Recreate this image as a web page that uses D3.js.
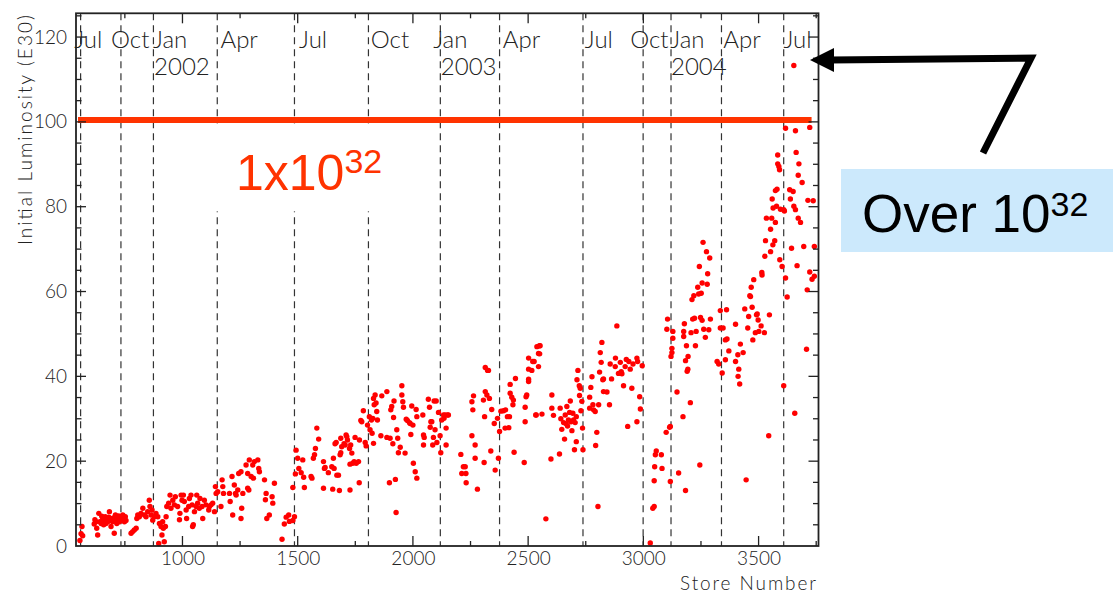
<!DOCTYPE html>
<html>
<head>
<meta charset="utf-8">
<script src="https://cdn.jsdelivr.net/npm/d3@7"></script>
<style>
  body { margin: 0; background: #fff; }
  text { font-family: Lato, "Open Sans", sans-serif; }
</style>
</head>
<body>
<div id="chart"></div>
<script>
// store number / initial luminosity (E30)
const pts2001 = [
  [555,1.3],[560,2.9],[564,4.6],[567,2.4],
  [617,5.2],[620,6.2],[625,5.7],[628,4.2],[632,2.6],[637,7.7],[642,5.7],[647,5.3],[650,7.0],[654,6.5],[658,5.0],
  [661,6.1],[665,6.9],[668,5.3],[672,6.3],[676,5.7],[680,6.8],[683,8.1],[686,6.5],[690,4.6],[694,6.0],[697,5.7],
  [700,6.6],[704,3.0],[709,7.3],[712,6.1],[715,5.3],[718,6.4],[723,7.1],[726,5.7],[730,6.0],[733,6.9],[741,7.3],
  [745,6.4],[748,5.7],[752,6.9],[755,6.0],
  [777,3.0],[784,3.4],[791,3.8],[799,4.2],[802,6.5],[806,7.3],[813,6.9],[820,7.7],[828,8.9],[835,7.3],[842,6.9],
  [849,8.1],[856,10.8],[859,9.3],[864,7.3],[868,8.5],[871,6.1]
];
const pts2002 = [
  [878,6.9],[885,7.7],[893,6.9],[897,0.6],[900,5.3],[907,4.6],[911,2.6],[914,5.7],[917,4.2],[921,1.0],[926,4.6],[929,6.9],
  [932,9.3],[940,10.1],[946,12.0],[950,8.9],[958,10.8],[965,9.7],[969,11.6],[979,9.3],[987,6.2],[989,7.7],[994,12.0],
  [998,10.8],[1004,12.0],[1008,10.5],[1016,8.5],[1018,6.5],[1027,9.3],[1030,11.2],[1037,12.0],[1042,9.7],[1044,4.6],
  [1047,5.0],[1052,8.1],[1059,9.3],[1062,12.0],[1066,10.1],[1073,8.9],[1076,11.2],[1085,9.3],[1088,6.5],[1095,10.8],
  [1102,9.7],[1114,8.5],[1117,9.3],[1124,9.7],[1131,10.1],[1139,8.1],
  [1143,14.0],[1146,12.4],[1153,12.8],[1167,9.3],[1172,15.6],[1175,14.0],[1178,12.4],[1204,12.4],[1207,10.5],[1215,16.4],
  [1218,7.3],[1225,14.4],[1230,12.4],[1233,12.0],[1240,13.2],[1244,17.1],[1254,17.5],[1257,8.9],[1254,6.5],[1262,12.4],
  [1276,19.1],[1283,17.1],[1283,13.6],[1288,13.2],[1290,20.3],[1298,16.4],[1305,19.1],[1308,16.0],[1312,19.9],[1327,20.3],
  [1331,18.3],[1334,17.5],[1356,15.6],[1360,10.9],[1363,12.4],[1366,6.5],[1377,7.3],[1389,11.6],[1392,10.1],[1399,14.8],
  [1432,1.6],[1442,5.2],[1450,6.8],[1461,7.3],[1464,5.8],[1479,6.0],[1486,6.9],
  [1479,13.8],[1490,17.0],[1493,22.6],[1500,20.7],[1505,18.3],[1515,17.3],[1522,20.3],[1526,16.2],[1529,13.8],[1558,16.4],
  [1562,16.0],[1568,20.7],[1573,21.5],[1577,23.0],[1583,27.8],[1591,25.2],[1612,19.9],[1616,18.3],[1612,13.6],
  [1619,18.5],[1633,17.3],[1648,18.7],[1652,13.4],[1655,20.7],[1658,18.3],[1662,24.1],[1667,24.4],[1670,16.7],[1677,16.7],
  [1681,13.1],[1684,21.5],[1687,22.0],[1687,25.4],[1691,23.4],[1701,24.1],[1706,23.8],[1710,26.2],[1713,25.8],[1716,25.0],
  [1725,23.0],[1730,23.8],[1727,13.2],[1727,19.3],[1735,21.9],[1739,19.5],[1745,19.9],[1749,25.6],[1754,19.5],[1764,19.9],
  [1767,14.9],[1768,25.0],[1774,29.6],[1778,29.3],[1785,31.9],[1793,24.4],[1797,23.6],[1803,28.5],[1811,30.5],[1814,27.4],
  [1820,29.7],[1823,26.6],[1826,30.1],[1829,24.2],[1829,34.8],[1832,33.3],[1836,35.6],[1840,33.7],[1843,31.7],[1846,29.7],
  [1861,26.0],[1865,35.4],[1887,36.4],[1887,25.6],[1898,14.9],[1901,25.4],[1904,32.1],[1908,32.9],[1913,24.1],[1916,30.3],
  [1918,34.2],[1924,15.7],[1927,7.9],[1930,27.4],[1934,25.4],[1937,22.0],[1945,23.3],[1952,37.8],[1952,35.6],[1956,34.0],
  [1959,32.7],[1966,21.9],[1971,29.9],[1976,29.6],[1985,29.1],[1988,28.9],[1991,26.3],[1995,33.0],[2000,28.5],[2002,19.5],
  [2010,17.5],[2014,32.2],[2017,16.0],[2017,30.5],[2043,30.9],[2046,26.2],[2049,25.6],[2046,23.8],[2067,34.6],[2072,32.7],
  [2075,28.0],[2078,29.3],[2082,29.3],[2086,23.8],[2089,25.6],[2092,34.2],[2096,27.4],[2101,34.2],[2104,24.4],[2111,31.5],
  [2118,26.0]
];
const pts2003 = [
  [2121,22.0],[2125,29.7],[2133,30.9],[2135,30.1],[2140,30.9],[2144,27.8],[2144,23.8],[2150,30.9],[2154,30.9],
  [2208,21.6],[2212,17.1],[2219,18.7],[2227,18.7],[2230,17.1],[2231,14.9],[2256,34.0],[2256,26.0],[2260,32.1],[2263,35.4],
  [2270,23.8],[2270,20.7],[2280,13.4],[2306,34.4],[2309,19.7],[2311,30.5],[2314,36.4],[2314,42.1],[2321,35.6],[2324,41.4],
  [2328,41.4],[2332,34.8],[2338,22.4],[2342,32.2],[2353,28.9],[2357,17.9],[2367,30.1],[2371,20.7],[2376,27.0],[2382,31.8],
  [2393,31.9],[2400,27.8],[2402,32.1],[2410,30.5],[2416,27.9],[2419,30.5],[2422,36.0],[2422,38.1],[2429,35.1],[2434,33.3],
  [2436,34.4],[2439,22.1],[2445,39.5],[2483,19.7],[2487,29.3],[2487,32.7],[2491,35.2],[2494,35.6],[2502,38.8],[2502,39.3],
  [2502,41.7],[2502,44.3],[2516,41.4],[2520,43.5],[2526,43.5],[2533,30.9],[2538,47.0],[2545,42.3],[2545,45.4],[2549,47.2],
  [2552,47.2],[2550,45.3],[2535,30.9],[2560,31.1],[2577,6.4],[2599,20.5],[2603,35.6],[2603,32.5],[2610,30.8],[2636,21.7],
  [2639,32.5],[2642,30.0],[2646,27.5],[2654,29.1],[2658,25.2],[2661,30.9],[2665,28.8],[2668,32.9],[2671,28.3],[2675,29.7],
  [2680,31.5],[2683,34.2],[2686,29.3],[2690,27.2],[2694,31.3],[2697,29.7],[2704,29.1],[2701,22.7],[2709,24.6],[2709,30.5],
  [2712,39.2],[2716,41.4],[2722,37.8],[2723,35.5],[2726,37.2],[2729,31.9],[2733,34.1],[2736,27.8],[2738,22.7],[2767,35.1],
  [2767,32.5],[2772,37.4],[2777,39.9],[2781,33.3],[2784,32.1],[2791,31.7],[2793,23.7],[2798,26.8],[2803,9.3],[2806,33.3],
  [2810,41.0],[2813,45.6],[2817,43.3],[2820,48.0],[2824,39.2],[2827,36.4],[2827,39.4],[2842,36.3],[2853,33.3],[2856,42.9],
  [2862,39.4],[2878,42.3],[2879,44.3],[2885,51.9],[2892,40.7],[2900,43.3],[2904,41.1],[2907,40.6],[2914,37.8],[2921,42.3],
  [2926,44.0],[2932,28.2],[2937,43.5],[2943,41.7],[2950,37.2],[2955,42.9],[2972,44.3],[2972,29.3],[2975,43.5],[2984,35.2],
  [2987,32.3],[2995,42.5],
  [3030,0.7],[3041,8.9],[3047,9.3],[3047,15.4],[3049,18.7],[3052,21.5],[3056,22.4],[3078,21.5],[3081,18.3],[3099,26.8],
  [3102,51.1],[3105,53.5],[3114,28.0],[3117,15.2],[3117,28.2]
];
const pts2004 = [
  [3120,44.7],[3124,46.6],[3128,49.0],[3124,45.6],[3128,50.6],[3146,36.3],[3153,17.2],[3172,30.5],[3175,49.4],[3175,50.6],
  [3178,52.4],[3183,43.7],[3183,13.1],[3187,47.2],[3190,41.2],[3193,41.7],[3194,44.7],[3204,33.8],[3207,50.3],[3211,58.1],
  [3214,53.5],[3219,59.0],[3222,53.7],[3226,47.2],[3229,50.6],[3236,61.0],[3240,59.4],[3243,65.9],[3245,19.1],[3248,53.9],
  [3251,59.6],[3255,62.0],[3255,53.2],[3259,71.6],[3262,51.1],[3269,49.2],[3274,69.4],[3277,61.7],[3279,64.2],[3284,51.0],
  [3288,67.9],[3291,53.5],
  [3320,43.5],[3327,42.9],[3334,55.5],[3334,51.4],[3342,40.8],[3346,51.4],[3356,48.6],[3356,43.9],[3361,55.7],[3363,48.8],
  [3371,46.0],[3400,52.3],[3400,43.5],[3410,45.1],[3411,40.0],[3414,41.7],[3418,38.2],[3421,47.6],[3433,45.6],[3440,55.9],
  [3446,15.6],[3453,51.4],[3457,54.1],[3462,59.0],[3465,58.8],[3468,61.0],[3472,56.3],[3475,48.6],[3479,62.8],[3486,50.3],
  [3491,54.5],[3494,54.7],[3498,53.3],[3501,50.6],[3511,51.9],[3514,64.5],[3515,63.9],[3525,50.3],[3527,68.3],[3530,72.0],
  [3534,77.3],[3544,26.0],[3547,54.5],[3552,69.4],[3552,74.7],[3557,77.3],[3559,81.8],[3562,71.0],[3563,79.7],[3570,72.0],
  [3573,76.3],[3573,83.8],[3578,80.1],[3580,84.1],[3583,92.2],[3583,90.1],[3588,89.5],[3591,88.7],[3592,67.5],[3595,79.4],
  [3602,65.9],[3609,79.3],[3609,37.8],[3612,79.0],[3617,98.5],[3617,63.2],[3624,58.7],[3635,84.0],[3638,81.8],[3643,70.2],
  [3650,83.6],[3653,80.1],[3653,113.3],[3657,31.3],[3660,79.3],[3660,97.9],[3663,92.8],[3667,66.1],[3672,77.3],[3675,90.1],
  [3672,87.4],[3682,76.3],[3689,85.7],[3696,70.6],[3708,46.4],[3711,60.4],[3714,81.5],[3722,64.6],[3722,98.7],[3732,62.9],
  [3737,81.4],[3742,70.6],[3742,63.6]
];

// month boundaries (store number at first store of the month)
const monthLines = [558, 733, 874, 1151, 1486, 1807, 2119, 2376, 2738, 2999, 3120, 3339, 3609];
const monthLabels = [
  ["Jul", 530], ["Oct", 690], ["Jan", 872], ["Apr", 1165], ["Jul", 1506], ["Oct", 1817],
  ["Jan", 2088], ["Apr", 2390], ["Jul", 2746], ["Oct", 2943], ["Jan", 3117], ["Apr", 3347], ["Jul", 3608]
];
const yearLabels = [["2002", 877], ["2003", 2121], ["2004", 3120]];
const yTicks = [0, 20, 40, 60, 80, 100, 120];
const xTicks = [1000, 1500, 2000, 2500, 3000, 3500];
const goal = 100;

const W = 1113, H = 595;
const svg = d3.select("#chart").append("svg").attr("width", W).attr("height", H);

const x = d3.scaleLinear().domain([538, 3760]).range([76, 818.5]);
const y = d3.scaleLinear().domain([0, 125.6]).range([546, 13.3]);

const ink = "#222";

// month dashed lines
svg.append("g").selectAll("line").data(monthLines).join("line")
  .attr("x1", d => x(d)).attr("x2", d => x(d))
  .attr("y1", y.range()[1]).attr("y2", y.range()[0])
  .attr("stroke", "#333").attr("stroke-width", 1.2)
  .attr("stroke-dasharray", "7,5");

// month / year labels
svg.append("g").selectAll("text").data(monthLabels).join("text")
  .attr("x", d => x(d[1])).attr("y", y(117.4))
  .attr("font-size", 24).attr("font-weight", 300).attr("fill", ink)
  .text(d => d[0]);
svg.append("g").selectAll("text").data(yearLabels).join("text")
  .attr("x", d => x(d[1])).attr("y", y(111.1))
  .attr("font-size", 24).attr("font-weight", 300).attr("fill", ink)
  .text(d => d[0]);

// 10^32 goal line
svg.append("line")
  .attr("x1", x.range()[0] + 2).attr("x2", x(3730))
  .attr("y1", y(goal) - 2).attr("y2", y(goal) - 2)
  .attr("stroke", "#ff3300").attr("stroke-width", 6);

// blank area behind the goal label
svg.append("rect")
  .attr("x", 190).attr("y", y(goal) + 1.5)
  .attr("width", 230).attr("height", 88)
  .attr("fill", "#fff");

const goalTxt = svg.append("text")
  .attr("x", 236).attr("y", 190)
  .attr("fill", "#ff3300")
  .style("font-family", "'Liberation Sans', Arial, sans-serif")
  .attr("font-size", 50);
goalTxt.append("tspan").text("1x10");
goalTxt.append("tspan").attr("font-size", 34).attr("dy", -17).text("32");

// data points
const allPts = [].concat(pts2001, pts2002, pts2003, pts2004);
svg.append("g").selectAll("circle").data(allPts).join("circle")
  .attr("cx", d => x(d[0])).attr("cy", d => y(d[1]))
  .attr("r", 2.7).attr("fill", "#ff0000");

// axes frame with inward ticks
const frame = svg.append("g");
const xMinor = d3.range(750, 3760, 250);
const yMinor = d3.range(5, 126, 5);
frame.selectAll("line.xb").data(xMinor).join("line")
  .attr("x1", d => x(d)).attr("x2", d => x(d))
  .attr("y1", y.range()[0]).attr("y2", d => y.range()[0] - (d % 500 === 0 ? 10 : 5))
  .attr("stroke", ink).attr("stroke-width", 1.3);
frame.selectAll("line.xt").data(xMinor).join("line")
  .attr("x1", d => x(d)).attr("x2", d => x(d))
  .attr("y1", y.range()[1]).attr("y2", d => y.range()[1] + (d % 500 === 0 ? 10 : 5))
  .attr("stroke", ink).attr("stroke-width", 1.3);
frame.selectAll("line.yl").data(yMinor).join("line")
  .attr("x1", x.range()[0]).attr("x2", d => x.range()[0] + (d % 20 === 0 ? 10 : 5.5))
  .attr("y1", d => y(d)).attr("y2", d => y(d))
  .attr("stroke", ink).attr("stroke-width", 1.3);
frame.selectAll("line.yr").data(yMinor).join("line")
  .attr("x1", x.range()[1]).attr("x2", d => x.range()[1] - (d % 20 === 0 ? 10 : 5.5))
  .attr("y1", d => y(d)).attr("y2", d => y(d))
  .attr("stroke", ink).attr("stroke-width", 1.3);

frame.append("rect")
  .attr("x", x.range()[0]).attr("y", y.range()[1])
  .attr("width", x.range()[1] - x.range()[0]).attr("height", y.range()[0] - y.range()[1])
  .attr("fill", "none").attr("stroke", ink).attr("stroke-width", 1.8);

// tick labels
const bottomAxis = svg.append("g").attr("transform", `translate(0,${y.range()[0]})`)
  .call(d3.axisBottom(x).tickValues(xTicks).tickSize(0).tickPadding(6).tickFormat(d3.format("d")));
bottomAxis.select(".domain").remove();
bottomAxis.selectAll("text").attr("font-size", 19).attr("font-weight", 300)
  .attr("fill", ink).style("font-family", "Lato, sans-serif");

const leftAxis = svg.append("g").attr("transform", `translate(${x.range()[0]},0)`)
  .call(d3.axisLeft(y).tickValues(yTicks).tickSize(0).tickPadding(9));
leftAxis.select(".domain").remove();
leftAxis.selectAll("text").attr("font-size", 19).attr("font-weight", 300)
  .attr("fill", ink).style("font-family", "Lato, sans-serif");

svg.append("text")
  .attr("x", 816).attr("y", 590)
  .attr("text-anchor", "end").attr("font-size", 19).attr("font-weight", 300).attr("fill", ink)
  .attr("textLength", 136).attr("lengthAdjust", "spacing")
  .text("Store Number");

svg.append("text")
  .attr("transform", "translate(32,245) rotate(-90)")
  .attr("font-size", 19).attr("font-weight", 300).attr("fill", ink)
  .attr("textLength", 230).attr("lengthAdjust", "spacing")
  .text("Initial Luminosity (E30)");

// annotation: arrow and callout box
svg.append("polyline")
  .attr("points", "983,153 1031,58 830,60")
  .attr("fill", "none").attr("stroke", "#000").attr("stroke-width", 7)
  .attr("stroke-linejoin", "miter");
svg.append("polygon")
  .attr("points", "810,60 834,48 834,72")
  .attr("fill", "#000");

svg.append("rect")
  .attr("x", 841).attr("y", 169).attr("width", W - 841).attr("height", 83)
  .attr("fill", "#cce9fc");
const overTxt = svg.append("text")
  .attr("x", 862).attr("y", 232)
  .attr("fill", "#000")
  .style("font-family", "'Liberation Sans', Arial, sans-serif")
  .attr("font-size", 53);
overTxt.append("tspan").text("Over 10");
overTxt.append("tspan").attr("font-size", 34).attr("dy", -16).text("32");
</script>
</body>
</html>
